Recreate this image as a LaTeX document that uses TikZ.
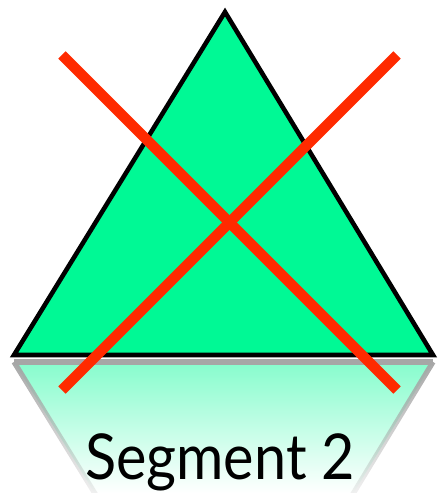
\documentclass[tikz,border=0pt]{standalone}
\usepackage{fontspec}
\setmainfont{Lato}
\usetikzlibrary{fadings,calc}
\definecolor{segGreen}{HTML}{00F995}
\definecolor{crossRed}{HTML}{FF2A00}

\begin{document}
\begin{tikzpicture}[x=0.02cm,y=-0.02cm]
  \useasboundingbox (0,0) rectangle (438,493);
  \coordinate (apex) at (225,12);
  \coordinate (baseL) at (14,355);
  \coordinate (baseR) at (433,355);
  \coordinate (mirL) at (14,362);
  \coordinate (mirR) at (433,362);
  \coordinate (mirApex) at (225,705);
  % reflection
  \begin{scope}
    \clip (mirL) -- (mirR) -- (mirApex) -- cycle;
    \shade[top color=segGreen!48!white,bottom color=white] (0,360) rectangle (438,493);
  \end{scope}
  \draw[gray!70,line width=3pt,path fading=south] (mirL) -- ($(mirL)!0.45!(mirApex)$);
  \draw[gray!70,line width=3pt,path fading=south] (mirR) -- ($(mirR)!0.45!(mirApex)$);
  \draw[gray!70,line width=3pt] (mirL) -- (mirR);
  % triangle
  \draw[fill=segGreen,line width=2.6pt,line join=miter] (apex) -- (baseL) -- (baseR) -- cycle;
  % cross
  \foreach \n/\x/\y in {tl/62/55,tr/397/55,bl/62/390,br/397/390}
    \coordinate (\n) at (\x,\y);
  \draw[crossRed,line width=6pt] (tl) -- (br);
  \draw[crossRed,line width=6pt] (tr) -- (bl);
  \node[xscale=0.91] (label) at (220,462) {\fontsize{36}{40}\selectfont Segment 2};
\end{tikzpicture}
\end{document}
